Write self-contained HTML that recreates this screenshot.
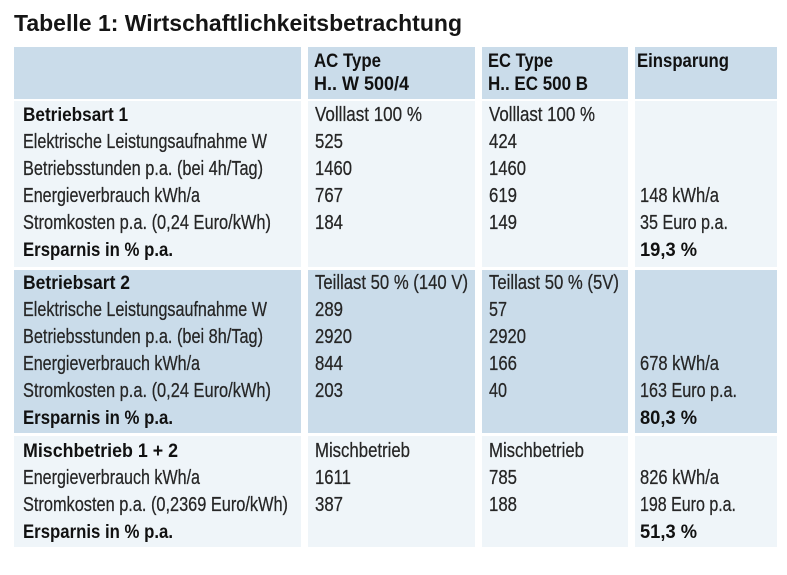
<!DOCTYPE html>
<html><head><meta charset="utf-8"><style>
html,body{margin:0;padding:0;background:#fff;}
svg{display:block;}
text{font-family:"Liberation Sans",Arial,sans-serif;}
.r{font-size:20px;fill:#262626;stroke:#262626;stroke-width:0.25;}
.b{font-size:19.5px;font-weight:bold;fill:#111;}
</style></head><body>
<svg width="787" height="575" viewBox="0 0 787 575" xmlns="http://www.w3.org/2000/svg">
<rect width="787" height="575" fill="#fff"/>
<text x="14" y="31" font-size="23.5" font-weight="bold" fill="#151515" textLength="448" lengthAdjust="spacingAndGlyphs">Tabelle 1: Wirtschaftlichkeitsbetrachtung</text>

<!-- header -->
<rect x="14" y="47" width="287" height="52" fill="#cadcea"/>
<rect x="308" y="47" width="167" height="52" fill="#cadcea"/>
<rect x="482" y="47" width="146" height="52" fill="#cadcea"/>
<rect x="635" y="47" width="142" height="52" fill="#cadcea"/>
<!-- row1 -->
<rect x="14" y="101" width="287" height="166" fill="#eff5f9"/>
<rect x="308" y="101" width="167" height="166" fill="#eff5f9"/>
<rect x="482" y="101" width="146" height="166" fill="#eff5f9"/>
<rect x="635" y="101" width="142" height="166" fill="#eff5f9"/>
<!-- row2 -->
<rect x="14" y="270" width="287" height="163" fill="#cadcea"/>
<rect x="308" y="270" width="167" height="163" fill="#cadcea"/>
<rect x="482" y="270" width="146" height="163" fill="#cadcea"/>
<rect x="635" y="270" width="142" height="163" fill="#cadcea"/>
<!-- row3 -->
<rect x="14" y="436" width="287" height="111" fill="#eff5f9"/>
<rect x="308" y="436" width="167" height="111" fill="#eff5f9"/>
<rect x="482" y="436" width="146" height="111" fill="#eff5f9"/>
<rect x="635" y="436" width="142" height="111" fill="#eff5f9"/>

<!-- header text -->
<text class="b" x="314" y="67" textLength="67" lengthAdjust="spacingAndGlyphs">AC Type</text>
<text class="b" x="314" y="90" textLength="95" lengthAdjust="spacingAndGlyphs">H.. W 500/4</text>
<text class="b" x="488" y="67" textLength="65" lengthAdjust="spacingAndGlyphs">EC Type</text>
<text class="b" x="488" y="90" textLength="100" lengthAdjust="spacingAndGlyphs">H.. EC 500 B</text>
<text class="b" x="637" y="67" textLength="92" lengthAdjust="spacingAndGlyphs">Einsparung</text>

<!-- row1 col1 -->
<text class="b" x="23" y="121" textLength="105" lengthAdjust="spacingAndGlyphs">Betriebsart 1</text>
<text class="r" x="23" y="148" textLength="244" lengthAdjust="spacingAndGlyphs">Elektrische Leistungsaufnahme W</text>
<text class="r" x="23" y="175" textLength="240" lengthAdjust="spacingAndGlyphs">Betriebsstunden p.a. (bei 4h/Tag)</text>
<text class="r" x="23" y="202" textLength="177" lengthAdjust="spacingAndGlyphs">Energieverbrauch kWh/a</text>
<text class="r" x="23" y="229" textLength="248" lengthAdjust="spacingAndGlyphs">Stromkosten p.a. (0,24 Euro/kWh)</text>
<text class="b" x="23" y="256" textLength="150" lengthAdjust="spacingAndGlyphs">Ersparnis in % p.a.</text>
<!-- row1 col2 -->
<text class="r" x="315" y="121" textLength="107" lengthAdjust="spacingAndGlyphs">Volllast 100 %</text>
<text class="r" x="315" y="148" textLength="28" lengthAdjust="spacingAndGlyphs">525</text>
<text class="r" x="315" y="175" textLength="37" lengthAdjust="spacingAndGlyphs">1460</text>
<text class="r" x="315" y="202" textLength="28" lengthAdjust="spacingAndGlyphs">767</text>
<text class="r" x="315" y="229" textLength="28" lengthAdjust="spacingAndGlyphs">184</text>
<!-- row1 col3 -->
<text class="r" x="489" y="121" textLength="106" lengthAdjust="spacingAndGlyphs">Volllast 100 %</text>
<text class="r" x="489" y="148" textLength="28" lengthAdjust="spacingAndGlyphs">424</text>
<text class="r" x="489" y="175" textLength="37" lengthAdjust="spacingAndGlyphs">1460</text>
<text class="r" x="489" y="202" textLength="28" lengthAdjust="spacingAndGlyphs">619</text>
<text class="r" x="489" y="229" textLength="28" lengthAdjust="spacingAndGlyphs">149</text>
<!-- row1 col4 -->
<text class="r" x="640" y="202" textLength="79" lengthAdjust="spacingAndGlyphs">148 kWh/a</text>
<text class="r" x="640" y="229" textLength="88" lengthAdjust="spacingAndGlyphs">35 Euro p.a.</text>
<text class="b" x="640" y="256" textLength="57" lengthAdjust="spacingAndGlyphs">19,3 %</text>

<!-- row2 col1 -->
<text class="b" x="23" y="289" textLength="107" lengthAdjust="spacingAndGlyphs">Betriebsart 2</text>
<text class="r" x="23" y="316" textLength="244" lengthAdjust="spacingAndGlyphs">Elektrische Leistungsaufnahme W</text>
<text class="r" x="23" y="343" textLength="240" lengthAdjust="spacingAndGlyphs">Betriebsstunden p.a. (bei 8h/Tag)</text>
<text class="r" x="23" y="370" textLength="177" lengthAdjust="spacingAndGlyphs">Energieverbrauch kWh/a</text>
<text class="r" x="23" y="397" textLength="248" lengthAdjust="spacingAndGlyphs">Stromkosten p.a. (0,24 Euro/kWh)</text>
<text class="b" x="23" y="424" textLength="150" lengthAdjust="spacingAndGlyphs">Ersparnis in % p.a.</text>
<!-- row2 col2 -->
<text class="r" x="315" y="289" textLength="153" lengthAdjust="spacingAndGlyphs">Teillast 50 % (140 V)</text>
<text class="r" x="315" y="316" textLength="28" lengthAdjust="spacingAndGlyphs">289</text>
<text class="r" x="315" y="343" textLength="37" lengthAdjust="spacingAndGlyphs">2920</text>
<text class="r" x="315" y="370" textLength="28" lengthAdjust="spacingAndGlyphs">844</text>
<text class="r" x="315" y="397" textLength="28" lengthAdjust="spacingAndGlyphs">203</text>
<!-- row2 col3 -->
<text class="r" x="489" y="289" textLength="130" lengthAdjust="spacingAndGlyphs">Teillast 50 % (5V)</text>
<text class="r" x="489" y="316" textLength="18" lengthAdjust="spacingAndGlyphs">57</text>
<text class="r" x="489" y="343" textLength="37" lengthAdjust="spacingAndGlyphs">2920</text>
<text class="r" x="489" y="370" textLength="28" lengthAdjust="spacingAndGlyphs">166</text>
<text class="r" x="489" y="397" textLength="18" lengthAdjust="spacingAndGlyphs">40</text>
<!-- row2 col4 -->
<text class="r" x="640" y="370" textLength="79" lengthAdjust="spacingAndGlyphs">678 kWh/a</text>
<text class="r" x="640" y="397" textLength="97" lengthAdjust="spacingAndGlyphs">163 Euro p.a.</text>
<text class="b" x="640" y="424" textLength="57" lengthAdjust="spacingAndGlyphs">80,3 %</text>

<!-- row3 col1 -->
<text class="b" x="23" y="457" textLength="155" lengthAdjust="spacingAndGlyphs">Mischbetrieb 1 + 2</text>
<text class="r" x="23" y="484" textLength="177" lengthAdjust="spacingAndGlyphs">Energieverbrauch kWh/a</text>
<text class="r" x="23" y="511" textLength="265" lengthAdjust="spacingAndGlyphs">Stromkosten p.a. (0,2369 Euro/kWh)</text>
<text class="b" x="23" y="538" textLength="150" lengthAdjust="spacingAndGlyphs">Ersparnis in % p.a.</text>
<!-- row3 col2 -->
<text class="r" x="315" y="457" textLength="95" lengthAdjust="spacingAndGlyphs">Mischbetrieb</text>
<text class="r" x="315" y="484" textLength="36" lengthAdjust="spacingAndGlyphs">1611</text>
<text class="r" x="315" y="511" textLength="28" lengthAdjust="spacingAndGlyphs">387</text>
<!-- row3 col3 -->
<text class="r" x="489" y="457" textLength="95" lengthAdjust="spacingAndGlyphs">Mischbetrieb</text>
<text class="r" x="489" y="484" textLength="28" lengthAdjust="spacingAndGlyphs">785</text>
<text class="r" x="489" y="511" textLength="28" lengthAdjust="spacingAndGlyphs">188</text>
<!-- row3 col4 -->
<text class="r" x="640" y="484" textLength="79" lengthAdjust="spacingAndGlyphs">826 kWh/a</text>
<text class="r" x="640" y="511" textLength="96" lengthAdjust="spacingAndGlyphs">198 Euro p.a.</text>
<text class="b" x="640" y="538" textLength="57" lengthAdjust="spacingAndGlyphs">51,3 %</text>
</svg>
</body></html>
